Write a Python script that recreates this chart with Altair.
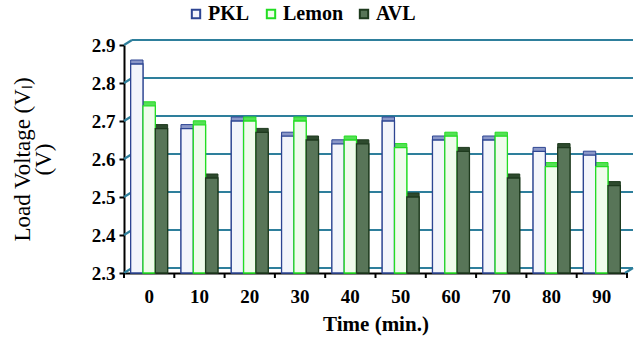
import altair as alt
import pandas as pd

times = ["0", "10", "20", "30", "40", "50", "60", "70", "80", "90"]
series = ["PKL", "Lemon", "AVL"]
pkl = [2.85, 2.68, 2.70, 2.66, 2.64, 2.70, 2.65, 2.65, 2.62, 2.61]
lemon = [2.74, 2.69, 2.70, 2.70, 2.65, 2.63, 2.66, 2.66, 2.58, 2.58]
avl = [2.68, 2.55, 2.67, 2.65, 2.64, 2.50, 2.62, 2.55, 2.63, 2.53]
y_ticks = [2.3, 2.4, 2.5, 2.6, 2.7, 2.8, 2.9]

fills = ["#F3F5FB", "#F0FCEC", "#587558"]
strokes = ["#2D4592", "#22DD22", "#1E3A1E"]
sides = ["#8A97C8", "#55E055", "#2E4A2E"]

rows = []
for s, vals in zip(series, [pkl, lemon, avl]):
    for t, v in zip(times, vals):
        rows.append({"time": t, "series": s, "v": v})
df = pd.DataFrame(rows)
grid = pd.DataFrame({"v": y_ticks})
tk = pd.DataFrame({"time": times})

W, H = 503, 228
FONT = "Liberation Serif"
teal = "#2E7F9C"
ysc = alt.Scale(domain=[2.3, 2.9], zero=False, nice=False)
xsc = alt.Scale(domain=times, paddingInner=0.265, paddingOuter=0.1325)
xo = alt.XOffset("series:N", sort=series, scale=alt.Scale(domain=series))

yaxis = alt.Axis(
    values=y_ticks, format=".1f", grid=False, domainColor="black", domainWidth=2,
    tickColor="black", tickWidth=2, tickSize=5, labelPadding=4,
    labelFont=FONT, labelFontSize=19, labelFontWeight="bold", labelColor="black",
    title=["Load Voltage (V\u2097)", "(V)"], titleFont=FONT, titleFontSize=23,
    titleFontWeight="normal", titleColor="black", titlePadding=36, titleLineHeight=21,
)
xaxis = alt.Axis(
    title="Time (min.)", labelAngle=0, ticks=False, domain=True,
    domainColor="black", domainWidth=2, labelPadding=14,
    labelFont=FONT, labelFontSize=19, labelFontWeight="bold", labelColor="black",
    titleFont=FONT, titleFontSize=21, titleFontWeight="bold", titleColor="black",
    titlePadding=7,
)

Y = lambda: alt.Y("v:Q", scale=ysc, axis=yaxis)
X = lambda: alt.X("time:N", scale=xsc, sort=times, axis=xaxis)

grid_back = alt.Chart(grid).mark_rule(color=teal, strokeWidth=2.2, yOffset=-5).encode(
    x=alt.value(8), x2=alt.value(W + 6), y=Y()
)
grid_wall = alt.Chart(grid).mark_rule(color=teal, strokeWidth=2.2, y2Offset=-5).encode(
    x=alt.value(0), x2=alt.value(8), y=Y(), y2=alt.Y2("v:Q")
)
floor_right = alt.Chart(grid[grid.v == 2.3]).mark_rule(color=teal, strokeWidth=2.2, y2Offset=-5).encode(
    x=alt.value(W - 2), x2=alt.value(W + 6), y=Y(), y2=alt.Y2("v:Q")
)

side = alt.Chart(df).mark_bar(xOffset=8, yOffset=-4, strokeWidth=1).encode(
    x=X(),
    xOffset=xo,
    y=Y(),
    y2=alt.datum(2.3),
    fill=alt.Fill("series:N", scale=alt.Scale(domain=series, range=sides), legend=None),
    stroke=alt.Stroke("series:N", scale=alt.Scale(domain=series, range=strokes), legend=None),
)

front = alt.Chart(df).mark_bar(xOffset=4, strokeWidth=1.3).encode(
    x=X(),
    xOffset=xo,
    y=Y(),
    y2=alt.datum(2.3),
    fill=alt.Fill("series:N", scale=alt.Scale(domain=series, range=fills), title=None,
                  legend=alt.Legend(orient="none", legendX=62, legendY=-41, direction="horizontal",
                                    symbolType="square", symbolSize=70, symbolStrokeWidth=2,
                                    labelFont=FONT, labelFontSize=20, labelFontWeight="bold",
                                    labelColor="black", columnPadding=11, labelOffset=2)),
    stroke=alt.Stroke("series:N", scale=alt.Scale(domain=series, range=strokes), title=None),
)

xticks = alt.Chart(tk).mark_rule(color="black", strokeWidth=2, xOffset=-25.15).encode(
    x=X(),
    y=alt.value(H), y2=alt.value(H + 5),
)
endtick = alt.Chart(tk.head(1)).mark_rule(color="black", strokeWidth=2).encode(
    x=alt.value(W), y=alt.value(H), y2=alt.value(H + 5)
)

chart = alt.layer(grid_back, grid_wall, floor_right, side, front, xticks, endtick).resolve_scale(
    fill="independent", stroke="independent"
).properties(
    width=W, height=H, autosize=alt.AutoSizeParams(type="none"),
    padding={"left": 124, "top": 45, "right": 636 - 124 - W, "bottom": 341 - 45 - H},
    background="white",
).configure_view(stroke=None)

chart.save("out.html", embed_options={"renderer": "svg", "actions": False})
